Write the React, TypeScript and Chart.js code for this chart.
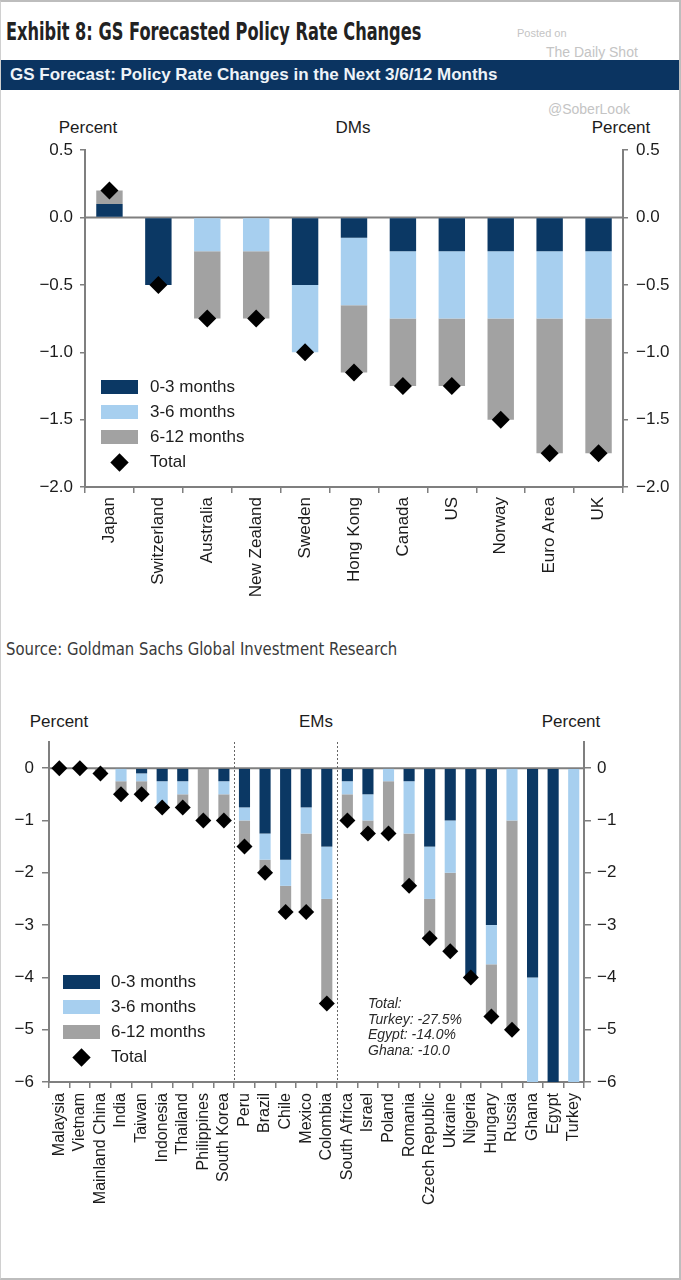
import React, { useEffect, useRef } from 'react';
import { Chart, registerables } from 'chart.js';

Chart.register(...registerables);

// ---------- data ----------
const SERIES_NAMES = ['0-3 months', '3-6 months', '6-12 months'];
const TOTAL_NAME = 'Total';
const SERIES_COLORS = ['#0b3864', '#a7cfef', '#a2a2a2'];

const DM_CATEGORIES = ['Japan', 'Switzerland', 'Australia', 'New Zealand', 'Sweden', 'Hong Kong', 'Canada', 'US', 'Norway', 'Euro Area', 'UK'];
const DM_0_3 = [0.1, -0.5, 0, 0, -0.5, -0.15, -0.25, -0.25, -0.25, -0.25, -0.25];
const DM_3_6 = [0, 0, -0.25, -0.25, -0.5, -0.5, -0.5, -0.5, -0.5, -0.5, -0.5];
const DM_6_12 = [0.1, 0, -0.5, -0.5, 0, -0.5, -0.5, -0.5, -0.75, -1.0, -1.0];
const DM_TOTAL = [0.2, -0.5, -0.75, -0.75, -1.0, -1.15, -1.25, -1.25, -1.5, -1.75, -1.75];
const DM_Y_MIN = -2;
const DM_Y_MAX = 0.5;
const DM_Y_STEP = 0.5;

const EM_CATEGORIES = ['Malaysia', 'Vietnam', 'Mainland China', 'India', 'Taiwan', 'Indonesia', 'Thailand', 'Philippines', 'South Korea', 'Peru', 'Brazil', 'Chile', 'Mexico', 'Colombia', 'South Africa', 'Israel', 'Poland', 'Romania', 'Czech Republic', 'Ukraine', 'Nigeria', 'Hungary', 'Russia', 'Ghana', 'Egypt', 'Turkey'];
const EM_0_3 = [0, 0, 0, 0, -0.1, -0.25, -0.25, 0, -0.25, -0.75, -1.25, -1.75, -0.75, -1.5, -0.25, -0.5, 0, -0.25, -1.5, -1.0, -4.0, -3.0, 0, -4.0, -14.0, 0];
const EM_3_6 = [0, 0, 0, -0.25, -0.15, -0.5, -0.25, 0, -0.25, -0.25, -0.5, -0.5, -0.5, -1.0, -0.25, -0.5, -0.25, -1.0, -1.0, -1.0, 0, -0.75, -1.0, -6.0, 0, -27.5];
const EM_6_12 = [0, 0, -0.1, -0.25, -0.25, 0, -0.25, -1.0, -0.5, -0.5, -0.25, -0.5, -1.5, -2.0, -0.5, -0.25, -1.0, -1.0, -0.75, -1.5, 0, -1.0, -4.0, 0, 0, 0];
const EM_TOTAL = [0, 0, -0.1, -0.5, -0.5, -0.75, -0.75, -1.0, -1.0, -1.5, -2.0, -2.75, -2.75, -4.5, -1.0, -1.25, -1.25, -2.25, -3.25, -3.5, -4.0, -4.75, -5.0, -10.0, -14.0, -27.5];
const EM_GROUP_BREAKS = [9, 14]; // index of first category of each new group
const EM_Y_MIN = -6;
const EM_Y_MAX = 0.5;
const EM_Y_STEP = 1;
const EM_NOTE = ['Total:', 'Turkey: -27.5%', 'Egypt: -14.0%', 'Ghana: -10.0'];

const TITLE = 'Exhibit 8: GS Forecasted Policy Rate Changes';
const BANNER = 'GS Forecast: Policy Rate Changes in the Next 3/6/12 Months';
const SOURCE = 'Source: Goldman Sachs Global Investment Research';

// ---------- styles ----------
const FONT = "'Liberation Sans', Arial, Helvetica, sans-serif";
const NARROW = "'Liberation Sans Narrow', 'Arial Narrow', 'DejaVu Sans Condensed', sans-serif";
const AXIS_GREY = '#7f7f7f';
const TEXT = '#1c1c1c';

function fmt(v: number, dec: number) {
  const s = Math.abs(v).toFixed(dec);
  return v < 0 ? '\u2212' + s : s;
}

const refLines = {
  id: 'refLines',
  beforeDatasetsDraw(chart: any, _args: any, opts: any) {
    const { ctx, chartArea, scales } = chart;
    const y0 = scales.y.getPixelForValue(0);
    ctx.save();
    ctx.strokeStyle = AXIS_GREY;
    ctx.lineWidth = 2;
    ctx.beginPath();
    ctx.moveTo(chartArea.left, y0);
    ctx.lineTo(chartArea.right, y0);
    ctx.stroke();
    const breaks: number[] = (opts && opts.breaks) || [];
    ctx.lineWidth = 1;
    ctx.setLineDash([2, 2]);
    ctx.strokeStyle = '#666';
    breaks.forEach((b) => {
      const x = Math.round((scales.x.getPixelForValue(b - 1) + scales.x.getPixelForValue(b)) / 2) + 0.5;
      ctx.beginPath();
      ctx.moveTo(x, chartArea.top);
      ctx.lineTo(x, chartArea.bottom);
      ctx.stroke();
    });
    ctx.restore();
  },
};

type ChartParams = {
  categories: string[];
  series: number[][];
  total: number[];
  min: number;
  max: number;
  step: number;
  dec: number;
  breaks: number[];
  padTop: number;
  leftW: number;
  rightW: number;
  xHeight: number;
  yTick: number;
  yPadL: number;
  yPadR: number;
  xTick: number;
  xPad: number;
  xFont: number;
  yFont: number;
  diamond: number;
  barPct: number;
};

function buildConfig(p: ChartParams): any {
  const yTicks = (pad: number) => ({
    stepSize: p.step,
    includeBounds: false,
    padding: pad,
    color: TEXT,
    font: { family: FONT, size: p.yFont },
    callback: (v: any) => fmt(Number(v), p.dec),
  });
  const yGrid = { drawOnChartArea: false, drawTicks: true, tickLength: p.yTick, color: AXIS_GREY, lineWidth: 1.5 };
  const yBorder = { display: true, color: AXIS_GREY, width: 2 };
  return {
    type: 'bar',
    data: {
      labels: p.categories,
      datasets: [
        {
          type: 'line',
          label: TOTAL_NAME,
          data: p.total,
          showLine: false,
          pointStyle: 'rectRot',
          pointRadius: p.diamond,
          pointHoverRadius: p.diamond,
          pointBorderWidth: 0,
          backgroundColor: '#000',
          borderColor: '#000',
          borderWidth: 0,
          stack: 'total',
          order: -1,
        },
        ...SERIES_NAMES.map((name, i) => ({
          type: 'bar',
          label: name,
          data: p.series[i],
          backgroundColor: SERIES_COLORS[i],
          borderWidth: 0,
          stack: 'bars',
          barPercentage: p.barPct,
          categoryPercentage: 1,
          order: 0,
        })),
      ],
    },
    options: {
      responsive: false,
      animation: false,
      events: [],
      layout: { padding: { top: p.padTop, left: 0, right: 0, bottom: 0 } },
      plugins: {
        legend: { display: false },
        tooltip: { enabled: false },
        title: { display: false },
        refLines: { breaks: p.breaks },
      },
      scales: {
        x: {
          type: 'category',
          stacked: true,
          offset: true,
          grid: { display: true, offset: true, drawOnChartArea: false, drawTicks: true, tickLength: p.xTick, color: AXIS_GREY, lineWidth: 1.5 },
          border: { display: true, color: AXIS_GREY, width: 2 },
          ticks: {
            autoSkip: false,
            minRotation: 90,
            maxRotation: 90,
            padding: p.xPad,
            color: TEXT,
            font: { family: FONT, size: p.xFont },
          },
          afterFit: (s: any) => {
            s.height = p.xHeight;
          },
        },
        y: {
          type: 'linear',
          position: 'left',
          stacked: true,
          min: p.min,
          max: p.max,
          grid: yGrid,
          border: yBorder,
          ticks: yTicks(p.yPadL),
          afterFit: (s: any) => {
            s.width = p.leftW;
          },
        },
        y1: {
          type: 'linear',
          position: 'right',
          min: p.min,
          max: p.max,
          grid: yGrid,
          border: yBorder,
          ticks: yTicks(p.yPadR),
          afterFit: (s: any) => {
            s.width = p.rightW;
          },
        },
      },
    },
    plugins: [refLines],
  };
}

function ChartCanvas({ params, top, height }: { params: ChartParams; top: number; height: number }) {
  const ref = useRef<HTMLCanvasElement | null>(null);
  useEffect(() => {
    if (!ref.current) return;
    const chart = new Chart(ref.current, buildConfig(params));
    return () => chart.destroy();
  }, []);
  return (
    <canvas
      ref={ref}
      width={681}
      height={height}
      style={{ position: 'absolute', left: 0, top, width: 681, height, display: 'block' }}
    />
  );
}

function Legend({ left, top, textLeft, fontSize }: { left: number; top: number; textLeft: number; fontSize: number }) {
  const rowH = 25;
  return (
    <>
      {SERIES_NAMES.map((name, i) => (
        <React.Fragment key={name}>
          <div style={{ position: 'absolute', left, top: top + i * rowH - 7, width: 37, height: 14, background: SERIES_COLORS[i] }} />
          <div style={{ position: 'absolute', left: textLeft, top: top + i * rowH - fontSize / 2 - 1, fontSize, lineHeight: 1, fontFamily: FONT, color: TEXT, whiteSpace: 'nowrap' }}>{name}</div>
        </React.Fragment>
      ))}
      <div style={{ position: 'absolute', left: left + 12, top: top + 3 * rowH - 6.5, width: 13, height: 13, background: '#000', transform: 'rotate(45deg)' }} />
      <div style={{ position: 'absolute', left: textLeft, top: top + 3 * rowH - fontSize / 2 - 1, fontSize, lineHeight: 1, fontFamily: FONT, color: TEXT }}>{TOTAL_NAME}</div>
    </>
  );
}

function Label({ text, x, y, size, align = 'left', style = {} }: any) {
  const tx = align === 'center' ? 'translate(-50%, 0)' : align === 'right' ? 'translate(-100%, 0)' : undefined;
  return (
    <div
      style={{
        position: 'absolute',
        left: x,
        top: y - size / 2 - 1,
        fontSize: size,
        lineHeight: 1,
        fontFamily: FONT,
        color: TEXT,
        whiteSpace: 'nowrap',
        transform: tx,
        ...style,
      }}
    >
      {text}
    </div>
  );
}

const DM_PARAMS: ChartParams = {
  categories: DM_CATEGORIES,
  series: [DM_0_3, DM_3_6, DM_6_12],
  total: DM_TOTAL,
  min: DM_Y_MIN,
  max: DM_Y_MAX,
  step: DM_Y_STEP,
  dec: 1,
  breaks: [],
  padTop: 16,
  leftW: 84,
  rightW: 59,
  xHeight: 125,
  yTick: 5,
  yPadL: 7,
  yPadR: 8,
  xTick: 6,
  xPad: 4,
  xFont: 17,
  yFont: 17,
  diamond: 9,
  barPct: 0.54,
};

const EM_PARAMS: ChartParams = {
  categories: EM_CATEGORIES,
  series: [EM_0_3, EM_3_6, EM_6_12],
  total: EM_TOTAL,
  min: EM_Y_MIN,
  max: EM_Y_MAX,
  step: EM_Y_STEP,
  dec: 0,
  breaks: EM_GROUP_BREAKS,
  padTop: 20,
  leftW: 48,
  rightW: 98,
  xHeight: 195,
  yTick: 7,
  yPadL: 8,
  yPadR: 6,
  xTick: 6,
  xPad: 5,
  xFont: 16,
  yFont: 17,
  diamond: 8,
  barPct: 0.54,
};

export default function App() {
  return (
    <div
      style={{
        position: 'absolute',
        left: 0,
        top: 0,
        width: 681,
        height: 1280,
        background: '#fff',
        overflow: 'hidden',
        boxSizing: 'border-box',
        borderTop: '2px solid #bdbdbd',
        borderRight: '2px solid #bdbdbd',
        borderBottom: '2px solid #bdbdbd',
        borderLeft: '1px solid #d0d0d0',
      }}
    >
      <div style={{ position: 'absolute', left: 0, top: 0, width: 681, height: 1280 }}>
        {/* title */}
        <div style={{ position: 'absolute', left: 5, top: 17, fontFamily: NARROW, fontWeight: 700, fontSize: 25, lineHeight: 1, color: '#222', whiteSpace: 'nowrap', transform: 'scaleX(0.72)', transformOrigin: '0 0' }}>{TITLE}</div>
        {/* watermark */}
        <div style={{ position: 'absolute', left: 516, top: 26, fontFamily: FONT, fontSize: 11, lineHeight: 1, color: '#c4c4c4' }}>Posted on</div>
        <div style={{ position: 'absolute', left: 545, top: 43, fontFamily: FONT, fontSize: 14, lineHeight: 1, color: '#c4c4c4' }}>The Daily Shot</div>
        <div style={{ position: 'absolute', left: 547, top: 100, fontFamily: FONT, fontSize: 14, lineHeight: 1, color: '#c4c4c4' }}>@SoberLook</div>
        {/* banner */}
        <div style={{ position: 'absolute', left: 0, top: 58, width: 681, height: 30, background: '#0b3461' }}>
          <div style={{ position: 'absolute', left: 9, top: 6, fontFamily: FONT, fontWeight: 700, fontSize: 17, lineHeight: 1, color: '#eef3f8', whiteSpace: 'nowrap' }}>{BANNER}</div>
        </div>

        {/* DM chart */}
        <Label text="Percent" x={87} y={126} size={17} align="center" />
        <Label text="DMs" x={352} y={126} size={17} align="center" />
        <Label text="Percent" x={620} y={126} size={17} align="center" />
        <ChartCanvas params={DM_PARAMS} top={130} height={480} />
        <Legend left={100} top={385} textLeft={149} fontSize={17} />

        {/* source */}
        <div style={{ position: 'absolute', left: 5, top: 638, fontFamily: NARROW, fontSize: 18, lineHeight: 1, color: '#3a3a3a', whiteSpace: 'nowrap', transform: 'scaleX(0.92)', transformOrigin: '0 0' }}>{SOURCE}</div>

        {/* EM chart */}
        <Label text="Percent" x={58} y={720} size={17} align="center" />
        <Label text="EMs" x={315} y={720} size={17} align="center" />
        <Label text="Percent" x={570} y={720} size={17} align="center" />
        <ChartCanvas params={EM_PARAMS} top={720} height={555} />
        <Legend left={62} top={980} textLeft={110} fontSize={17} />
        <div style={{ position: 'absolute', left: 367, top: 994, fontFamily: FONT, fontStyle: 'italic', fontSize: 14, lineHeight: '15.5px', color: '#2a2a2a', whiteSpace: 'nowrap' }}>
          {EM_NOTE.map((l) => (
            <div key={l}>{l}</div>
          ))}
        </div>
      </div>
    </div>
  );
}
